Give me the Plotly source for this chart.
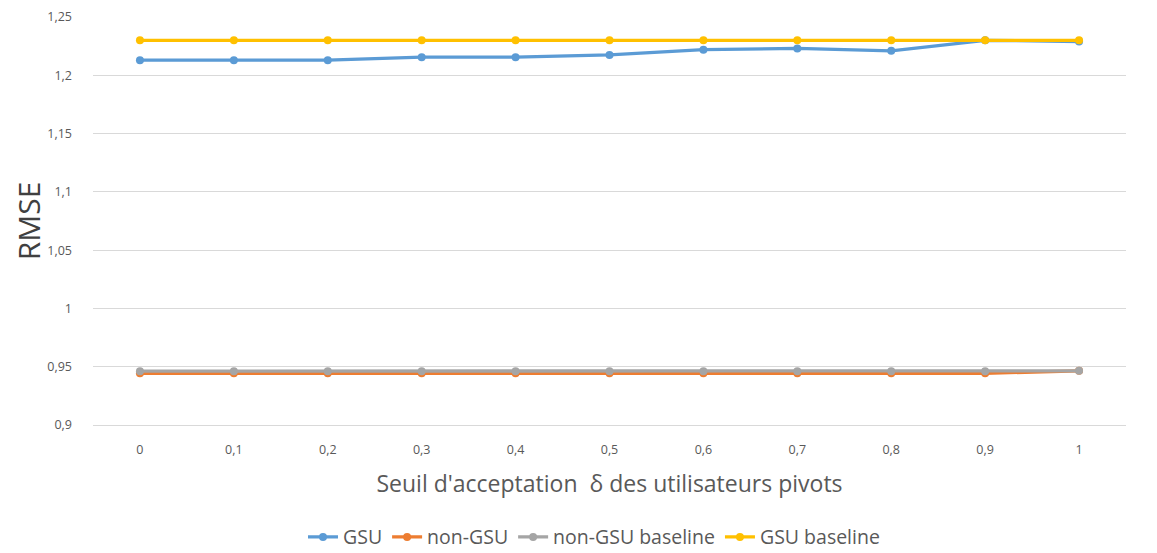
import plotly.graph_objects as go

categories = ["0", "0,1", "0,2", "0,3", "0,4", "0,5", "0,6", "0,7", "0,8", "0,9", "1"]
gsu = [1.213, 1.213, 1.213, 1.2155, 1.2155, 1.2175, 1.2220, 1.2230, 1.2210, 1.2300, 1.2290]
non_gsu = [0.9443, 0.9443, 0.9443, 0.9443, 0.9443, 0.9443, 0.9443, 0.9443, 0.9443, 0.9443, 0.9465]
non_gsu_baseline = [0.9462, 0.9462, 0.9462, 0.9462, 0.9462, 0.9462, 0.9462, 0.9462, 0.9462, 0.9462, 0.9465]
gsu_baseline = [1.2300] * 11
y_ticks = [0.9, 0.95, 1.0, 1.05, 1.1, 1.15, 1.2, 1.25]

series = [
    ("GSU", gsu, "#5B9BD5"),
    ("non-GSU", non_gsu, "#ED7D31"),
    ("non-GSU baseline", non_gsu_baseline, "#A5A5A5"),
    ("GSU baseline", gsu_baseline, "#FFC000"),
]

fig = go.Figure()
for name, vals, col in series:
    fig.add_trace(go.Scatter(
        x=categories, y=vals, name=name, mode="lines+markers",
        line=dict(color=col, width=3.3), marker=dict(color=col, size=8),
    ))

font_family = "'Open Sans', Lato, sans-serif"
fig.update_layout(
    width=1149, height=545,
    margin=dict(l=85, r=31, t=9, b=128, autoexpand=False),
    plot_bgcolor="white", paper_bgcolor="white",
    separators=", ",
    font=dict(family=font_family, color="#595959", size=12.5),
    showlegend=True,
    legend=dict(orientation="h", x=0.485, xanchor="center",
                y=-0.275, yanchor="middle",
                font=dict(size=19.5, color="#595959"), itemwidth=30, tracegroupgap=0),
    xaxis=dict(
        type="category", range=[-0.5, 10.5],
        showgrid=False, showline=True, linecolor="#D9D9D9", linewidth=1,
        ticks="", tickfont=dict(size=12.5, color="#595959"), ticklabelstandoff=13,
        title=dict(text="Seuil d'acceptation  δ des utilisateurs pivots",
                   font=dict(size=23, color="#595959"), standoff=18),
    ),
    yaxis=dict(
        range=[0.9, 1.25], tickvals=y_ticks, tickformat=".2~f",
        showgrid=True, gridcolor="#D9D9D9", gridwidth=1, zeroline=False,
        ticks="", tickfont=dict(size=12.5, color="#595959"), ticklabelstandoff=20,
        title=dict(text="RMSE", font=dict(size=30, color="#404040"), standoff=0),
    ),
)

fig.write_html("out.html")
